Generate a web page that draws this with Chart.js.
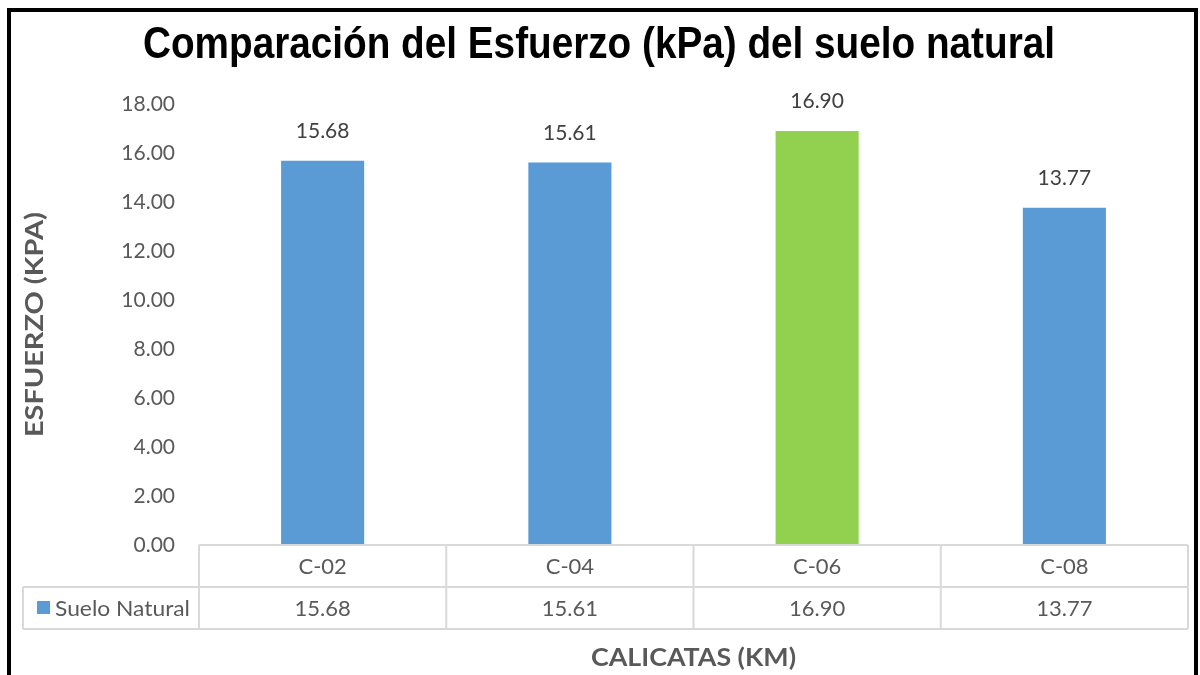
<!DOCTYPE html>
<html>
<head>
<meta charset="utf-8">
<script src="https://cdn.jsdelivr.net/npm/chart.js@4/dist/chart.umd.min.js"></script>
<style>
  html, body { margin: 0; padding: 0; background: #fff; }
  #wrap { width: 1200px; height: 675px; }
</style>
</head>
<body>
<div id="wrap"><canvas id="myChart" width="1200" height="675"></canvas></div>
<script>
// datos del grafico
const categorias = ['C-02', 'C-04', 'C-06', 'C-08'];
const esfuerzo = [15.68, 15.61, 16.90, 13.77];
const serieNombre = 'Suelo Natural';
const ticksY = [0, 2, 4, 6, 8, 10, 12, 14, 16, 18];

const azul = '#5B9BD5';
const coloresBarras = ['#5B9BD5', '#5B9BD5', '#92D050', '#5B9BD5'];
const gris = '#595959';
const lineaTabla = '#D9D9D9';
const fuente = 'Lato, "Open Sans", sans-serif';

// dibuja un texto ajustado a un ancho dado
function textoAjustado(ctx, texto, x, y, ancho, rot) {
    const w = ctx.measureText(texto).width;
    ctx.save();
    ctx.translate(x, y);
    if (rot) ctx.rotate(rot);
    ctx.scale(ancho / w, 1);
    ctx.fillText(texto, 0, 0);
    ctx.restore();
}

// plugin: titulos, etiquetas, tabla de datos y marco
const extras = {
    id: 'extras',
    afterDraw(chart) {
        const ctx = chart.ctx;
        const area = chart.chartArea;
        const xs = chart.scales.x;
        const meta = chart.getDatasetMeta(0);

        // titulo (comprimido en horizontal como en el original)
        ctx.save();
        ctx.font = 'bold 44px "Liberation Sans", Arial, sans-serif';
        ctx.fillStyle = '#000';
        ctx.textAlign = 'center';
        ctx.textBaseline = 'alphabetic';
        textoAjustado(ctx, 'Comparación del Esfuerzo (kPa) del suelo natural', 599, 58, 912);
        ctx.restore();

        // etiquetas encima de las barras
        ctx.save();
        ctx.font = '21px ' + fuente;
        ctx.fillStyle = '#404040';
        ctx.textAlign = 'center';
        ctx.textBaseline = 'bottom';
        meta.data.forEach((bar, i) => {
            ctx.fillText(esfuerzo[i].toFixed(2), bar.x, bar.y - 19);
        });
        ctx.restore();

        // tabla de datos
        const fila1 = area.bottom;
        const fila2 = fila1 + 42;
        const fila3 = fila2 + 42;
        const izq = 23;
        const paso = xs.getPixelForValue(1) - xs.getPixelForValue(0);
        ctx.save();
        ctx.strokeStyle = lineaTabla;
        ctx.lineWidth = 2;
        ctx.beginPath();
        ctx.moveTo(area.left, fila1); ctx.lineTo(area.right, fila1);
        ctx.moveTo(izq, fila2); ctx.lineTo(area.right, fila2);
        ctx.moveTo(izq, fila3); ctx.lineTo(area.right, fila3);
        ctx.moveTo(izq, fila2); ctx.lineTo(izq, fila3);
        for (let i = 0; i <= categorias.length; i++) {
            const x = xs.getPixelForValue(0) - paso / 2 + i * paso;
            ctx.moveTo(x, fila1); ctx.lineTo(x, fila3);
        }
        ctx.stroke();

        ctx.font = '22px ' + fuente;
        ctx.fillStyle = gris;
        ctx.textAlign = 'center';
        ctx.textBaseline = 'middle';
        categorias.forEach((c, i) => {
            const x = xs.getPixelForValue(i);
            ctx.fillText(c, x, (fila1 + fila2) / 2 + 1);
            ctx.fillText(esfuerzo[i].toFixed(2), x, (fila2 + fila3) / 2 + 1);
        });
        // leyenda dentro de la tabla
        ctx.fillStyle = azul;
        ctx.fillRect(37, (fila2 + fila3) / 2 - 7, 13, 13);
        ctx.fillStyle = gris;
        ctx.textAlign = 'left';
        textoAjustado(ctx, serieNombre, 55, (fila2 + fila3) / 2 + 1, 135);

        // titulos de los ejes
        ctx.font = 'bold 24px ' + fuente;
        ctx.textAlign = 'center';
        textoAjustado(ctx, 'CALICATAS (KM)', (area.left + area.right) / 2, 658, 205);
        textoAjustado(ctx, 'ESFUERZO (KPA)', 35, (area.top + area.bottom) / 2, 225, -Math.PI / 2);
        ctx.restore();

        // marco negro
        ctx.save();
        ctx.strokeStyle = '#000';
        ctx.lineWidth = 4;
        ctx.beginPath();
        ctx.moveTo(9, 700);
        ctx.lineTo(9, 10);
        ctx.lineTo(1196, 10);
        ctx.lineTo(1196, 700);
        ctx.stroke();
        ctx.restore();
    }
};

const ctx = document.getElementById('myChart').getContext('2d');
const chart = new Chart(ctx, {
    type: 'bar',
    data: {
        labels: categorias,
        datasets: [{
            label: serieNombre,
            data: esfuerzo,
            backgroundColor: coloresBarras,
            borderWidth: 0,
            barPercentage: 0.336,
            categoryPercentage: 1
        }]
    },
    options: {
        responsive: false,
        animation: false,
        layout: { padding: { top: 104, right: 12, bottom: 130, left: 0 } },
        plugins: {
            legend: { display: false },
            title: { display: false },
            tooltip: { enabled: false }
        },
        scales: {
            x: { display: false },
            y: {
                min: 0,
                max: 18,
                afterBuildTicks: (s) => { s.ticks = ticksY.map(v => ({ value: v })); },
                afterFit: (s) => { s.width = 199; },
                ticks: {
                    color: gris,
                    font: { family: fuente, size: 21 },
                    padding: 24,
                    callback: (v) => Number(v).toFixed(2)
                },
                grid: { display: false, drawTicks: false },
                border: { display: false }
            }
        }
    },
    plugins: [extras]
});
</script>
</body>
</html>
